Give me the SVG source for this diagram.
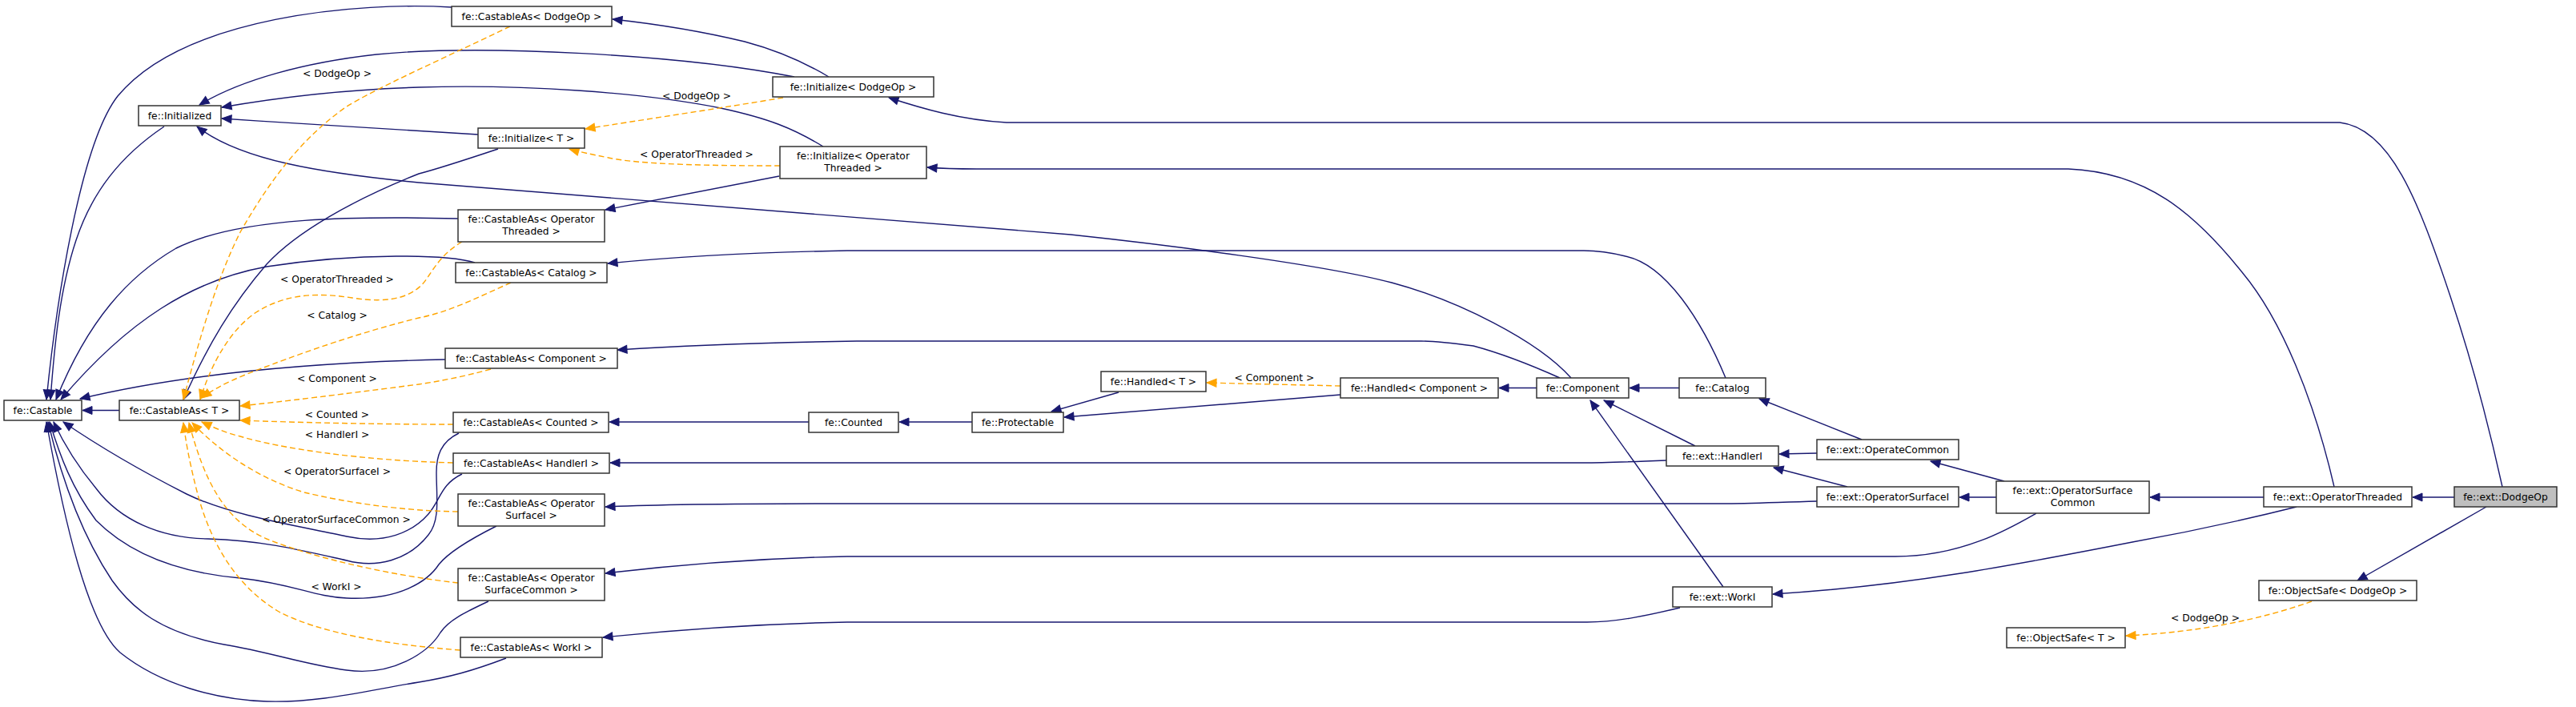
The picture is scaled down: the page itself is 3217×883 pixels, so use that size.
<svg xmlns="http://www.w3.org/2000/svg" width="3217" height="883" viewBox="0 0 3217 883">
<style>
.node rect{fill:#ffffff;stroke:#333333;stroke-width:1.5}
#n_dodgeop rect{fill:#bfbfbf}
text{font-family:"DejaVu Sans","Liberation Sans",sans-serif;font-size:12.3px;fill:#000000;text-anchor:middle}
.e{fill:none;stroke:#191970;stroke-width:1.4;marker-end:url(#an)}
.t{fill:none;stroke:#ffa500;stroke-width:1.4;stroke-dasharray:7,4;marker-end:url(#ao)}
</style>
<defs>
<marker id="an" markerUnits="userSpaceOnUse" markerWidth="14" markerHeight="12" viewBox="0 0 14 12" refX="13" refY="6" orient="auto"><path d="M1,1 L13,6 L1,11 z" fill="#191970" stroke="#191970" stroke-width="1"/></marker>
<marker id="ao" markerUnits="userSpaceOnUse" markerWidth="14" markerHeight="12" viewBox="0 0 14 12" refX="13" refY="6" orient="auto"><path d="M1,1 L13,6 L1,11 z" fill="#ffa500" stroke="#ffa500" stroke-width="1"/></marker>
</defs>
<rect width="3217" height="883" fill="#ffffff"/>
<g id="edges">
<path class="e" d="M149,512.5 L103,512.5"/>
<path class="e" d="M564,9 C450,2 230,20 147,120 C100,180 70,380 58,499"/>
<path class="e" d="M992,96 C850,68 600,55 470,68 C380,78 300,100 249,131"/>
<path class="e" d="M1028,183 C990,160 960,148 900,135 C800,115 650,105 523,109 C420,112 340,123 277,134"/>
<path class="e" d="M597,168 C480,161 380,155 277,148"/>
<path class="e" d="M1962,472 C1920,425 1820,375 1738,353 C1650,330 1450,305 1337,293 L523,228 C400,216 300,200 246,158"/>
<path class="e" d="M205,158 C150,195 115,240 95,300 C75,360 68,430 63,499"/>
<path class="e" d="M572,273 C450,270 300,270 220,310 C160,345 110,400 70,499"/>
<path class="e" d="M593,328 C560,318 450,315 333,333 C240,350 160,400 76,499"/>
<path class="e" d="M556,449 C420,452 250,462 100,498"/>
<path class="e" d="M577,592 C550,605 550,625 535,642 C515,665 480,680 433,670 C380,658 290,645 233,617 C170,585 120,555 79,527"/>
<path class="e" d="M573,541 C550,552 545,570 545,590 C545,620 550,650 535,668 C510,700 470,710 433,700 C380,688 330,675 260,673 C200,672 150,650 120,610 C95,580 80,555 67,527"/>
<path class="e" d="M620,657 C590,672 560,690 548,705 C535,725 500,750 433,747 C390,745 370,730 300,722 C220,715 160,690 120,650 C90,610 75,570 62,527"/>
<path class="e" d="M610,751 C580,765 560,775 550,790 C535,815 490,845 433,837 C380,830 340,815 280,805 C200,790 165,760 140,725 C100,665 75,590 60,527"/>
<path class="e" d="M632,822 C590,838 560,846 523,852 C460,862 400,878 333,876 C270,874 200,855 150,815 C110,780 80,650 58,527"/>
<path class="e" d="M622,186 C580,200 550,210 523,217 C440,250 370,290 333,330 C290,380 260,430 229,499"/>
<path class="t" d="M637,33 C560,70 470,110 433,133 C380,170 340,220 300,290 C270,350 250,420 229,499"/>
<path class="t" d="M577,302 C555,315 545,330 535,345 C520,370 490,380 440,372 C400,366 360,365 320,390 C290,410 265,450 250,499"/>
<path class="t" d="M638,353 C600,370 560,390 523,397 C450,415 380,440 340,455 C300,470 275,480 252,497"/>
<path class="t" d="M613,461 C580,470 550,476 523,480 C430,492 350,502 300,507"/>
<path class="t" d="M566,530 C480,530 380,528 300,525"/>
<path class="t" d="M566,578 C450,575 350,560 300,545 C280,540 265,533 252,527"/>
<path class="t" d="M572,639 C500,638 430,627 380,615 C330,600 280,570 240,528"/>
<path class="t" d="M572,728 C500,720 400,700 333,673 C280,650 255,600 236,528"/>
<path class="t" d="M575,812 C480,805 400,790 350,765 C290,730 260,670 245,610 C235,570 232,550 229,528"/>
<path class="t" d="M978,122 C900,135 800,150 731,161"/>
<path class="t" d="M974,207 C900,207 800,206 760,197 C740,193 725,190 711,186"/>
<path class="e" d="M1035,96 C1000,75 960,60 930,52 C880,40 820,30 765,24"/>
<path class="e" d="M3125,608 C3110,540 3090,460 3060,370 C3020,250 2985,160 2922,153 L1257,153 C1200,150 1150,135 1110,122"/>
<path class="e" d="M2915,608 C2890,500 2850,400 2800,340 C2740,265 2680,215 2583,211 L1220,211 C1190,211 1170,210 1158,209"/>
<path class="e" d="M973,220 L756,262"/>
<path class="e" d="M2155,472 C2125,400 2080,330 2030,320 C2010,315 1995,313 1978,313 L1058,313 C950,315 850,320 759,329"/>
<path class="e" d="M1948,472 C1910,455 1870,440 1840,432 C1810,428 1790,426 1775,426 L1070,426 C950,428 850,432 771,437"/>
<path class="e" d="M1010,527 L761,527"/>
<path class="e" d="M2081,575 C2030,577 2000,578 1978,578 L762,578"/>
<path class="e" d="M2269,626 C2200,628 2180,629 2150,629 L1058,629 C900,629 800,631 756,633"/>
<path class="e" d="M2543,641 C2510,660 2450,695 2367,695 L1058,695 C950,697 850,705 756,716"/>
<path class="e" d="M2098,759 C2060,768 2020,777 1982,777 L1058,777 C950,779 850,786 753,796"/>
<path class="e" d="M1214,527 L1123,527"/>
<path class="e" d="M1397,490 L1313,514"/>
<path class="e" d="M1674,493 L1329,521"/>
<path class="t" d="M1674,482 L1507,478"/>
<path class="e" d="M1919,484.5 L1872,484.5"/>
<path class="e" d="M2097,484.5 L2035,484.5"/>
<path class="e" d="M2117,557 L2003,500"/>
<path class="e" d="M2152,733 L1986,500"/>
<path class="e" d="M2325,549 L2197,498"/>
<path class="e" d="M2269,566 L2222,567"/>
<path class="e" d="M2307,608 L2215,584"/>
<path class="e" d="M2503,601 L2411,576"/>
<path class="e" d="M2493,621 L2447,621"/>
<path class="e" d="M2827,621 L2685,621"/>
<path class="e" d="M3065,621 L3013,621"/>
<path class="e" d="M2868,633 C2800,650 2730,665 2663,677 C2520,705 2380,732 2214,742"/>
<path class="e" d="M3105,633 L2944,725"/>
<path class="t" d="M2887,751 C2820,775 2740,790 2655,794"/>
<text x="421" y="96">&lt; DodgeOp &gt;</text>
<text x="421" y="352.7">&lt; OperatorThreaded &gt;</text>
<text x="421" y="398">&lt; Catalog &gt;</text>
<text x="421" y="476.7">&lt; Component &gt;</text>
<text x="421" y="521.7">&lt; Counted &gt;</text>
<text x="421" y="547.3">&lt; HandlerI &gt;</text>
<text x="421" y="592.7">&lt; OperatorSurfaceI &gt;</text>
<text x="420" y="652.7">&lt; OperatorSurfaceCommon &gt;</text>
<text x="420" y="737.3">&lt; WorkI &gt;</text>
<text x="870" y="124.3">&lt; DodgeOp &gt;</text>
<text x="870" y="196.7">&lt; OperatorThreaded &gt;</text>
<text x="1591.5" y="476">&lt; Component &gt;</text>
<text x="2754" y="775.7">&lt; DodgeOp &gt;</text>
</g>
<g id="n_initialized" class="node"><rect x="173" y="132" width="103" height="25"/><text x="224.5" y="148.5">fe::Initialized</text></g>
<g id="n_castable" class="node"><rect x="5" y="500" width="97" height="25"/><text x="53.5" y="516.5">fe::Castable</text></g>
<g id="n_castableas_t" class="node"><rect x="149" y="500" width="150" height="25"/><text x="224" y="516.5">fe::CastableAs&lt; T &gt;</text></g>
<g id="n_castableas_dodgeop" class="node"><rect x="564" y="8" width="200" height="25"/><text x="664" y="24.5">fe::CastableAs&lt; DodgeOp &gt;</text></g>
<g id="n_initialize_dodgeop" class="node"><rect x="965" y="96" width="201" height="25"/><text x="1065.5" y="112.5">fe::Initialize&lt; DodgeOp &gt;</text></g>
<g id="n_initialize_t" class="node"><rect x="597" y="160" width="133" height="25"/><text x="663.5" y="176.5">fe::Initialize&lt; T &gt;</text></g>
<g id="n_initialize_ot" class="node"><rect x="974" y="183" width="183" height="40"/><text x="1065.5" y="199.3">fe::Initialize&lt; Operator</text><text x="1065.5" y="214.3">Threaded &gt;</text></g>
<g id="n_castableas_ot" class="node"><rect x="572" y="262" width="183" height="40"/><text x="663.5" y="278.3">fe::CastableAs&lt; Operator</text><text x="663.5" y="293.3">Threaded &gt;</text></g>
<g id="n_castableas_catalog" class="node"><rect x="569" y="328" width="189" height="25"/><text x="663.5" y="344.5">fe::CastableAs&lt; Catalog &gt;</text></g>
<g id="n_castableas_component" class="node"><rect x="556" y="435" width="215" height="25"/><text x="663.5" y="451.5">fe::CastableAs&lt; Component &gt;</text></g>
<g id="n_castableas_counted" class="node"><rect x="566" y="515" width="194" height="25"/><text x="663" y="531.5">fe::CastableAs&lt; Counted &gt;</text></g>
<g id="n_castableas_handleri" class="node"><rect x="566" y="566" width="195" height="25"/><text x="663.5" y="582.5">fe::CastableAs&lt; HandlerI &gt;</text></g>
<g id="n_castableas_osi" class="node"><rect x="572" y="617" width="183" height="40"/><text x="663.5" y="633.3">fe::CastableAs&lt; Operator</text><text x="663.5" y="648.3">SurfaceI &gt;</text></g>
<g id="n_castableas_osc" class="node"><rect x="572" y="710" width="183" height="40"/><text x="663.5" y="726.3">fe::CastableAs&lt; Operator</text><text x="663.5" y="741.3">SurfaceCommon &gt;</text></g>
<g id="n_castableas_worki" class="node"><rect x="575" y="796" width="177" height="25"/><text x="663.5" y="812.5">fe::CastableAs&lt; WorkI &gt;</text></g>
<g id="n_counted" class="node"><rect x="1010" y="515" width="112" height="25"/><text x="1066" y="531.5">fe::Counted</text></g>
<g id="n_protectable" class="node"><rect x="1214" y="515" width="114" height="25"/><text x="1271" y="531.5">fe::Protectable</text></g>
<g id="n_handled_t" class="node"><rect x="1375" y="464" width="131" height="25"/><text x="1440.5" y="480.5">fe::Handled&lt; T &gt;</text></g>
<g id="n_handled_component" class="node"><rect x="1674" y="472" width="197" height="25"/><text x="1772.5" y="488.5">fe::Handled&lt; Component &gt;</text></g>
<g id="n_component" class="node"><rect x="1919" y="472" width="115" height="25"/><text x="1976.5" y="488.5">fe::Component</text></g>
<g id="n_catalog" class="node"><rect x="2097" y="472" width="108" height="25"/><text x="2151" y="488.5">fe::Catalog</text></g>
<g id="n_handleri" class="node"><rect x="2081" y="557" width="140" height="25"/><text x="2151" y="573.5">fe::ext::HandlerI</text></g>
<g id="n_worki" class="node"><rect x="2089" y="733" width="124" height="25"/><text x="2151" y="749.5">fe::ext::WorkI</text></g>
<g id="n_operatecommon" class="node"><rect x="2269" y="549" width="177" height="25"/><text x="2357.5" y="565.5">fe::ext::OperateCommon</text></g>
<g id="n_osi" class="node"><rect x="2269" y="608" width="177" height="25"/><text x="2357.5" y="624.5">fe::ext::OperatorSurfaceI</text></g>
<g id="n_osc" class="node"><rect x="2493" y="601" width="191" height="40"/><text x="2588.5" y="617.3">fe::ext::OperatorSurface</text><text x="2588.5" y="632.3">Common</text></g>
<g id="n_objectsafe_t" class="node"><rect x="2506" y="784" width="148" height="25"/><text x="2580" y="800.5">fe::ObjectSafe&lt; T &gt;</text></g>
<g id="n_operatorthreaded" class="node"><rect x="2827" y="608" width="185" height="25"/><text x="2919.5" y="624.5">fe::ext::OperatorThreaded</text></g>
<g id="n_dodgeop" class="node"><rect x="3065" y="608" width="128" height="25"/><text x="3129" y="624.5">fe::ext::DodgeOp</text></g>
<g id="n_objectsafe_dodgeop" class="node"><rect x="2821" y="725" width="197" height="25"/><text x="2919.5" y="741.5">fe::ObjectSafe&lt; DodgeOp &gt;</text></g>
</svg>
